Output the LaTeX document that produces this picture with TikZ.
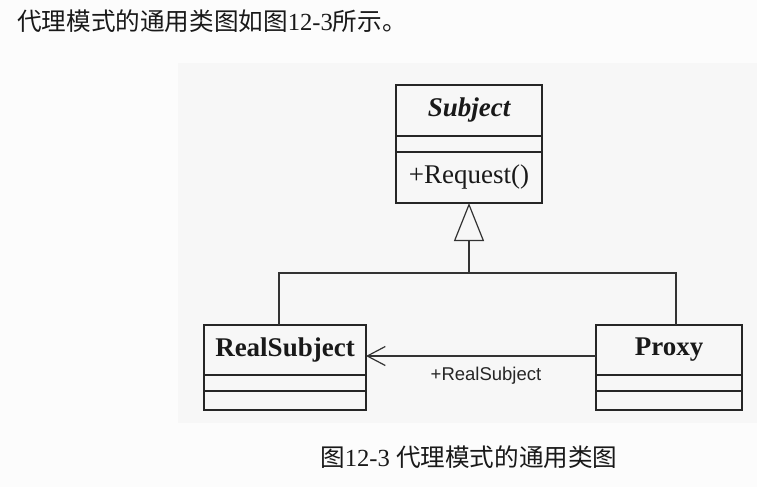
\documentclass[tikz,border=0pt]{standalone}
\usepackage{fontspec}
\setmainfont{Liberation Serif}
\newfontfamily\cjkfont{Noto Sans CJK SC}
\newfontfamily\labelfont{Liberation Sans}
\usetikzlibrary{arrows.meta}
\tikzset{
  uml/.style={draw=black!85, line width=1.2pt, inner sep=0pt, outer sep=0pt, text=black!90},
  clsname/.style={uml, minimum height=50pt, font=\fontsize{27}{30}\selectfont\bfseries},
  clsattr/.style={uml, minimum height=16pt, anchor=north},
  clsop/.style={uml, anchor=north, font=\fontsize{27}{30}\selectfont},
  link/.style={draw=black!80, line width=1.2pt},
  prose/.style={anchor=west, inner sep=0pt, text=black!90, font=\fontsize{24.6}{27}\selectfont},
}
\begin{document}
\begin{tikzpicture}[x=1pt, y=-1pt]
			\fill[white!99!black] (0,0) rectangle (757,487);
			\fill[white!96.8!black] (178,63) rectangle (757,423);
			\node[prose] (intro) at (17,21) {{\cjkfont 代理模式的通用类图如图}12-3{\cjkfont 所示。}};
			% Subject
			\node[clsname, minimum width=146pt, minimum height=51pt] (subj) at (469,110.5) {\itshape Subject};
			\node[clsattr, minimum width=146pt] (subj-attr) at (subj.south) {};
			\node[clsop, minimum width=146pt, minimum height=51pt] (subj-op) at (subj-attr.south) {+Request()};
			% RealSubject
			\node[clsname, minimum width=162pt] (real) at (285,350) {RealSubject};
			\node[clsattr, minimum width=162pt] (real-attr) at (real.south) {};
			\node[clsop, minimum width=162pt, minimum height=19pt] (real-op) at (real-attr.south) {};
			% Proxy
			\node[clsname, minimum width=146pt] (proxy) at (669,350) {Proxy};
			\node[clsattr, minimum width=146pt] (proxy-attr) at (proxy.south) {};
			\node[clsop, minimum width=146pt, minimum height=19pt] (proxy-op) at (proxy-attr.south) {};
			% generalisation
			\coordinate (fork) at (subj-op.south |- 0,273);
			\draw[link] ([xshift=-6pt]real.north) |- (fork);
			\draw[link] ([xshift=7pt]proxy.north) |- (fork);
			\draw[link, -{Triangle[open, length=38pt, width=30pt, line width=1.2pt]}] (fork) -- (subj-op.south);
			% association
			\draw[link, -{Straight Barb[length=18pt, width=19pt, line width=1.2pt]}] (proxy.west |- 0,356) -- (real.east |- 0,356);
			\node[font=\labelfont\fontsize{18.5}{20}\selectfont, text=black!85] (assoc) at (486,376) {+RealSubject};
			\node[prose] (caption) at (320,457) {{\cjkfont 图}12-3 {\cjkfont 代理模式的通用类图}};
		\end{tikzpicture}
\end{document}
